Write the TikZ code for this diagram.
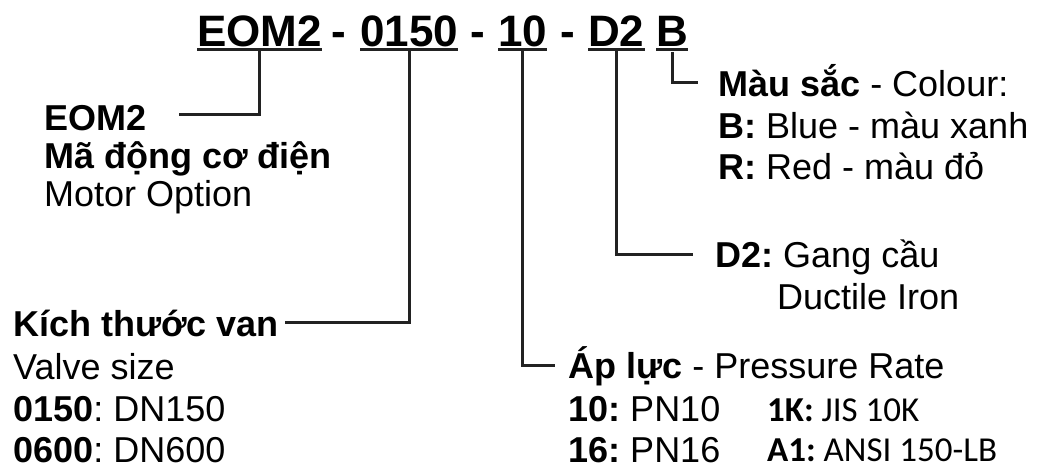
\documentclass[tikz,border=0pt]{standalone}
\usepackage{fontspec}
\usepackage{xcolor}
\usepackage{tikz}
\setmainfont{Liberation Sans}
\newfontfamily\calibrifont{Carlito}
\definecolor{linegray}{RGB}{34, 34, 34}

\begin{document}
\frenchspacing
\begin{tikzpicture}[x=1pt, y=-1pt,
  code/.style={anchor=base west, inner sep=0pt, font=\fontsize{44}{50}\selectfont\bfseries},
  txt/.style={anchor=base west, inner sep=0pt, font=\fontsize{36}{40}\selectfont},
  calib/.style={anchor=base west, inner sep=0pt, font=\fontsize{35}{40}\selectfont\calibrifont},
  uline/.style={line width=3pt, linegray},
  conn/.style={line width=3pt, linegray}]
\useasboundingbox (0,0) rectangle (1040,470);

% Code line
\node[code] (eom) at (197,47) {EOM2};
\node[code] (c0150) at (360,47) {0150};
\node[code] (c10) at (498,47) {10};
\node[code] (cD2) at (588,47) {D2};
\node[code] (cB) at (656,47) {B};
\node[code, anchor=base] (sep1) at (339,47) {-};
\node[code, anchor=base] (sep2) at (478,47) {-};
\node[code, anchor=base] (sep3) at (568,47) {-};
\foreach \n in {eom, c0150, c10, cD2, cB}
  \draw[uline] ([yshift=-3pt]\n.base west) -- ([yshift=-3pt]\n.base east);

% Motor option
\node[txt] (lblEom) at (44,131) {\textbf{EOM2}};
\node[txt] (lblEomVn) at (44,169) {\textbf{Mã động cơ điện}};
\node[txt] (lblEomEn) at (44,207) {Motor Option};

% Valve size
\node[txt] (lblSize) at (13,336) {\textbf{Kích thước van}};
\node[txt] (lblSizeEn) at (13,379) {Valve size};
\node[txt] (lblSize1) at (13,421) {\textbf{0150}: DN150};
\node[txt] (lblSize2) at (13,462) {\textbf{0600}: DN600};

% Pressure rate
\node[txt] (lblPress) at (568,378) {\textbf{Áp lực} - Pressure Rate};
\node[txt] (lblPn10) at (568,421) {\textbf{10:} PN10};
\node[txt] (lblPn16) at (568,462) {\textbf{16:} PN16};
\node[calib] (lblJis) at (767,421) {\textbf{1K:} JIS 10K};
\node[calib] (lblAnsi) at (767,461) {\textbf{A1:} ANSI 150-LB};

% Material
\node[txt] (lblD2) at (715,267) {\textbf{D2:} Gang cầu};
\node[txt] (lblD2En) at (777,309) {Ductile Iron};

% Colour
\node[txt] (lblColour) at (718,97) {\textbf{Màu sắc} - Colour:};
\node[txt] (lblBlue) at (718,139) {\textbf{B:} Blue - màu xanh};
\node[txt] (lblRed) at (718,180) {\textbf{R:} Red - màu đỏ};

% Leader lines
\draw[conn] ([yshift=-3pt]eom.base) |- ([xshift=33pt, yshift=16pt]lblEom.base east);
\draw[conn] ([yshift=-3pt]c0150.base) |- ([xshift=6pt, yshift=14pt]lblSize.base east);
\draw[conn] ([yshift=-3pt]c10.base) |- ([xshift=-13pt, yshift=13pt]lblPress.base west);
\draw[conn] ([yshift=-3pt]cD2.base) |- ([xshift=-22pt, yshift=13pt]lblD2.base west);
\draw[conn] ([yshift=-5pt]cB.base) |- ([xshift=-20pt, yshift=14pt]lblColour.base west);
\end{tikzpicture}
\end{document}
